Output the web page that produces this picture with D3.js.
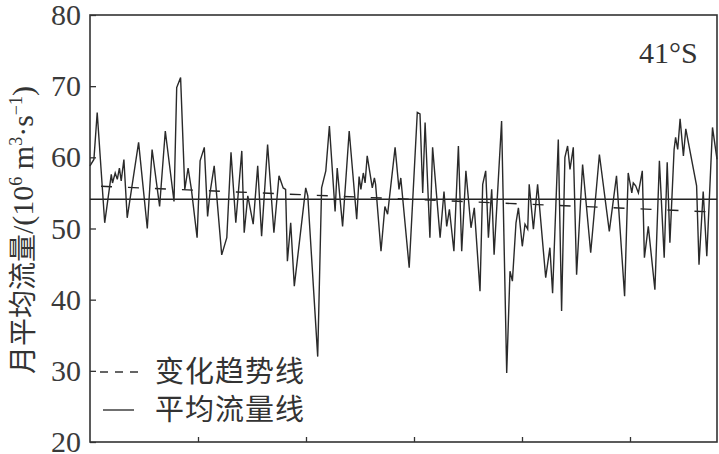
<!DOCTYPE html>
<html>
<head>
<meta charset="utf-8">
<script src="https://cdn.jsdelivr.net/npm/d3@7"></script>
<style>
  body { margin: 0; background: #fff; }
  svg { display: block; }
</style>
</head>
<body>
<div id="chart"></div>
<script>
// data (month index, flow in 10^6 m3/s)
var months = [0, 1.3, 2.4, 4.9, 7.1, 7.5, 8.4, 9.1, 9.8, 10.4, 11.3, 12.4, 16.2, 19.1, 20.7, 23.2, 25.1, 28, 28.9, 30.2,
  31.6, 32.7, 33.8, 35.7, 36.7, 38.1, 39.2, 40, 41.4, 43.9, 45.6, 47, 48.6, 50.6, 51.4, 52.6, 54.4, 55.9, 57.2, 59.2,
  61.3, 63, 64.4, 65.2, 65.8, 66.9, 68.1, 71.9, 72.6, 75.9, 77.2, 78.6, 79.8, 81.7, 82.4, 84.2, 86.4, 88.9, 89.7, 90.3,
  91.1, 91.7, 92.4, 94.1, 94.8, 95.2, 97, 98.3, 99.2, 101.7, 103, 103.6, 106.4, 109.1, 110, 110.9, 111.7, 113.3, 114.2, 116.7,
  118, 118.9, 119.8, 121.3, 122.8, 123.9, 125.3, 127, 128.1, 130, 130.9, 131.9, 132.8, 133.9, 134.7, 137.2, 138.9, 140, 140.8, 142,
  142.8, 144.1, 145, 145.9, 146.4, 147.8, 149.2, 151.9, 153.3, 154.2, 156.1, 157.2, 158.3, 159.2, 160, 161.1, 162.2, 164.2, 166.9, 169.8,
  173.1, 175.5, 178.2, 179.4, 180.6, 181.1, 181.9, 182.8, 184.1, 184.8, 186.1, 188.3, 189.8, 191.4, 192.4, 193.3, 194.7, 195.2, 195.9, 196.7,
  197.8, 198.6, 202.2, 203, 204.4, 205.6, 207.5, 209];
var flow = [58.8, 59.7, 66.3, 50.8, 57.6, 56.4, 57.8, 56.9, 58.5, 56.7, 59.7, 51.5, 62.1, 50.0, 61.1, 53.1, 63.7, 53.8, 69.8, 71.2,
  55.5, 58.5, 55.5, 48.7, 59.5, 61.4, 51.7, 55.0, 58.8, 46.3, 48.7, 60.7, 50.8, 60.9, 49.4, 54.6, 50.6, 58.8, 48.9, 61.8,
  49.4, 57.4, 55.7, 55.5, 45.4, 50.8, 41.9, 55.7, 54.6, 32.0, 55.7, 58.1, 64.4, 52.4, 58.5, 50.3, 63.7, 51.3, 57.3, 55.5,
  57.8, 56.4, 60.2, 55.7, 57.1, 56.2, 46.8, 53.1, 52.0, 61.4, 55.5, 57.1, 44.5, 66.3, 66.1, 55.0, 64.9, 48.7, 61.4, 48.7,
  55.2, 50.3, 52.7, 46.8, 61.6, 46.8, 58.1, 50.1, 52.9, 41.2, 56.2, 58.1, 48.7, 55.5, 46.3, 65.1, 29.7, 44.0, 42.6, 50.8,
  52.9, 47.5, 50.6, 49.9, 56.2, 49.9, 56.2, 43.1, 47.3, 40.9, 62.5, 38.4, 60.0, 61.6, 58.3, 61.4, 43.5, 59.0, 46.6, 60.4,
  49.6, 57.4, 40.5, 57.8, 55.0, 56.4, 56.0, 55.0, 58.1, 45.9, 50.3, 41.4, 59.5, 45.9, 59.3, 48.0, 61.1, 62.8, 61.1, 65.4,
  60.2, 64.0, 56.0, 44.9, 55.2, 46.1, 64.2, 59.7];

var meanFlow = 54.1;
var trendStart = 56.0, trendEnd = 52.3;
var yTicks = [20, 30, 40, 50, 60, 70, 80];
var xTicks = [36, 72, 108, 144, 180];
var legendLabels = ["变化趋势线", "平均流量线"];

var svgWidth = 719, svgHeight = 454;
var margin = { top: 15, right: 2, bottom: 12, left: 90 };
var width = svgWidth - margin.left - margin.right;
var height = svgHeight - margin.top - margin.bottom;

var svg = d3.select("#chart").append("svg")
  .attr("width", svgWidth)
  .attr("height", svgHeight);

var g = svg.append("g")
  .attr("transform", `translate(${margin.left}, ${margin.top})`);

var x = d3.scaleLinear().domain([0, 209]).range([0, width]);
var y = d3.scaleLinear().domain([20, 80]).range([height, 0]);

// axes, ticks pointing inward
var yAxis = g.append("g")
  .call(d3.axisLeft(y).tickValues(yTicks).tickSizeInner(-6).tickSizeOuter(0).tickPadding(9));
yAxis.select(".domain").remove();
yAxis.selectAll("line").attr("stroke", "#333").attr("stroke-width", 1.3);
yAxis.selectAll("text")
  .attr("font-family", "Liberation Serif, serif")
  .attr("font-size", 30)
  .attr("fill", "#3a3a3a");

var xAxis = g.append("g")
  .attr("transform", `translate(0, ${height})`)
  .call(d3.axisBottom(x).tickValues(xTicks).tickSizeInner(-5).tickSizeOuter(0).tickFormat(""));
xAxis.select(".domain").remove();
xAxis.selectAll("line").attr("stroke", "#333").attr("stroke-width", 1.3);

// frame
g.append("rect")
  .attr("width", width)
  .attr("height", height)
  .attr("fill", "none")
  .attr("stroke", "#333")
  .attr("stroke-width", 1.6);

// mean line
g.append("line")
  .attr("x1", x(0)).attr("x2", x(209))
  .attr("y1", y(meanFlow)).attr("y2", y(meanFlow))
  .attr("stroke", "#222")
  .attr("stroke-width", 1.4);

// trend line
g.append("line")
  .attr("x1", x(0)).attr("x2", x(209))
  .attr("y1", y(trendStart)).attr("y2", y(trendEnd))
  .attr("stroke", "#222")
  .attr("stroke-width", 1.4)
  .attr("stroke-dasharray", "11,16")
  .attr("stroke-dashoffset", -11);

// monthly flow
var line = d3.line()
  .x((d, i) => x(months[i]))
  .y(d => y(d));

g.append("path")
  .datum(flow)
  .attr("d", line)
  .attr("fill", "none")
  .attr("stroke", "#2a2a2a")
  .attr("stroke-width", 1.4)
  .attr("stroke-linejoin", "miter");

// latitude tag
svg.append("text")
  .attr("x", 639)
  .attr("y", 63)
  .attr("font-family", "Liberation Serif, serif")
  .attr("font-size", 30)
  .attr("fill", "#333")
  .text("41°S");

// legend
var legend = svg.append("g");
legend.append("line")
  .attr("x1", 100).attr("x2", 140)
  .attr("y1", 372).attr("y2", 372)
  .attr("stroke", "#333").attr("stroke-width", 1.4)
  .attr("stroke-dasharray", "8,7");
legend.append("line")
  .attr("x1", 103).attr("x2", 134)
  .attr("y1", 410).attr("y2", 410)
  .attr("stroke", "#333").attr("stroke-width", 1.4);
legend.selectAll("text.leg")
  .data(legendLabels)
  .enter()
  .append("text")
  .attr("class", "leg")
  .attr("x", 155)
  .attr("y", (d, i) => 372 + i * 38)
  .attr("dy", "0.36em")
  .attr("font-family", "Noto Sans CJK SC, sans-serif")
  .attr("font-size", 29)
  .attr("letter-spacing", 1)
  .attr("fill", "#333")
  .text(d => d);

// y axis title
var title = svg.append("text")
  .attr("transform", "translate(23, 230) rotate(-90)")
  .attr("text-anchor", "middle")
  .attr("dy", "0.36em")
  .attr("fill", "#333")
  .attr("font-size", 28);
title.append("tspan").attr("font-family", "Noto Sans CJK SC, sans-serif").text("月平均流量");
var serif = "Liberation Serif, serif";
title.append("tspan").attr("font-family", serif).attr("font-size", 30).text("/(10");
title.append("tspan").attr("font-family", serif).attr("font-size", 18).attr("dy", -11).text("6");
title.append("tspan").attr("font-family", serif).attr("font-size", 30).attr("dy", 11).text(" m");
title.append("tspan").attr("font-family", serif).attr("font-size", 18).attr("dy", -11).text("3");
title.append("tspan").attr("font-family", serif).attr("font-size", 30).attr("dy", 11).text("·s");
title.append("tspan").attr("font-family", serif).attr("font-size", 18).attr("dy", -11).text("−1");
title.append("tspan").attr("font-family", serif).attr("font-size", 30).attr("dy", 11).text(")");
</script>
</body>
</html>
